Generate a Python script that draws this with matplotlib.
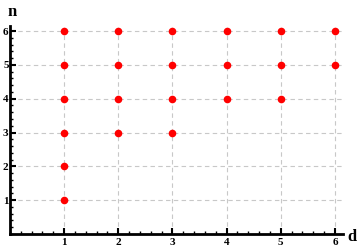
import matplotlib
matplotlib.use("Agg")
import matplotlib.pyplot as plt
from matplotlib.ticker import MultipleLocator

d_vals = [1, 1, 1, 1, 1, 1, 2, 2, 2, 2, 3, 3, 3, 3, 4, 4, 4, 5, 5, 5, 6, 6]
n_vals = [1, 2, 3, 4, 5, 6, 3, 4, 5, 6, 3, 4, 5, 6, 4, 5, 6, 4, 5, 6, 5, 6]
ticks = [1, 2, 3, 4, 5, 6]

fig = plt.figure(figsize=(3.6, 2.5), dpi=100)
ax = fig.add_axes([10/360, 16/250, 333/360, 208/250])
ax.scatter(d_vals, n_vals, s=30, color="#ff0000", zorder=3, linewidths=0)
ax.set_xlim(0, 6.15)
ax.set_ylim(0, 6.15)
ax.set_xticks(ticks)
ax.set_yticks(ticks)
ax.set_xticklabels([str(t) for t in ticks])
ax.set_yticklabels([str(t) for t in ticks])
ax.xaxis.set_minor_locator(MultipleLocator(0.2))
ax.yaxis.set_minor_locator(MultipleLocator(0.2))
ax.grid(True, which="major", linestyle=(0, (4, 3)), color="#c8c8c8", linewidth=0.8)
for s in ["top", "right"]:
    ax.spines[s].set_visible(False)
for s in ["left", "bottom"]:
    ax.spines[s].set_linewidth(2)
ax.tick_params(which="major", direction="in", length=4, width=1.5, pad=3,
               labelsize=8)
ax.tick_params(which="minor", direction="in", length=2, width=1)
for lab in ax.get_xticklabels() + ax.get_yticklabels():
    lab.set_family("Liberation Serif")
    lab.set_fontweight("bold")
ax.tick_params(axis="y", pad=1)
fig.text(12/360, 1 - 12/250, "n", fontsize=12, fontweight="bold", family="Liberation Serif",
         ha="center", va="center")
fig.text(352/360, 1 - 237/250, "d", fontsize=12, fontweight="bold", family="Liberation Serif",
         ha="center", va="center")
fig.savefig("out.png", dpi=100)
